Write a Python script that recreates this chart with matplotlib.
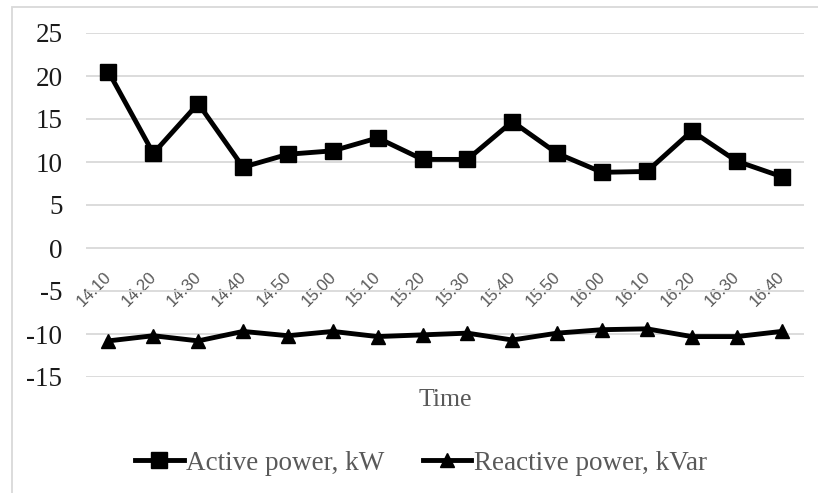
import matplotlib
matplotlib.use("Agg")
import matplotlib.pyplot as plt
from matplotlib.patches import Rectangle
from matplotlib.transforms import ScaledTranslation

# data
times = ["14.10", "14.20", "14.30", "14.40", "14.50", "15.00", "15.10", "15.20",
         "15.30", "15.40", "15.50", "16.00", "16.10", "16.20", "16.30", "16.40"]
active_kw = [20.5, 11.0, 16.8, 9.4, 10.9, 11.3, 12.8, 10.3,
             10.3, 14.7, 11.0, 8.8, 8.9, 13.6, 10.1, 8.3]
reactive_kvar = [-10.8, -10.2, -10.8, -9.7, -10.2, -9.7, -10.3, -10.1,
                 -9.9, -10.7, -9.9, -9.5, -9.4, -10.3, -10.3, -9.7]
yticks = [-15, -10, -5, 0, 5, 10, 15, 20, 25]

SERIF = "Liberation Serif"
GRID = "#d9d9d9"
TXT = "#595959"
plt.rcParams["axes.unicode_minus"] = False

fig = plt.figure(figsize=(8.18, 4.93), dpi=100)
ax = fig.add_axes([86 / 818, 1 - 377 / 493, 718 / 818, 344 / 493])

x = list(range(len(times)))
ax.plot(x, active_kw, color="black", lw=3.5, marker="s", ms=11,
        label="Active power, kW", zorder=3)
ax.plot(x, reactive_kvar, color="black", lw=3.5, marker="^", ms=9.5,
        label="Reactive power, kVar", zorder=3)

ax.set_xlim(-0.5, len(times) - 0.5)
ax.set_ylim(-15, 25)
ax.set_yticks(yticks)
ax.yaxis.grid(True, color=GRID, lw=1.3)
ax.set_axisbelow(True)
for sp in ax.spines.values():
    sp.set_visible(False)

# category axis crosses at y = 0, labels rotated like Excel
ax.spines["bottom"].set_position(("data", 0))
ax.set_xticks(x)
ax.set_xticklabels(times, rotation=45, ha="right", va="top",
                   fontsize=12, color=TXT, family="Liberation Sans")
ax.tick_params(axis="x", length=0, pad=15)
offset = ScaledTranslation(6 / 100, 0, fig.dpi_scale_trans)
for lbl in ax.get_xticklabels():
    lbl.set_transform(lbl.get_transform() + offset)

ax.tick_params(axis="y", length=0, pad=17)
for lbl in ax.get_yticklabels():
    lbl.set_fontfamily(SERIF)
    lbl.set_fontsize(19.5)
    lbl.set_color("#1a1a1a")

ax.set_xlabel("Time", family=SERIF, fontsize=18.5, color=TXT)
ax.xaxis.set_label_coords(0.5, -0.035, transform=ax.transAxes)
ax.xaxis.label.set_va("top")

leg = fig.legend(loc="center", bbox_to_anchor=(421 / 818, 1 - 463 / 493),
                 ncol=2, frameon=False, handlelength=1.8, handletextpad=0.1,
                 columnspacing=1.4, prop={"family": SERIF, "size": 19.5})
for t in leg.get_texts():
    t.set_color(TXT)

# chart-area border (Excel frame)
fig.patches.append(Rectangle((12 / 818, -0.1), 1.0, 1 - 7 / 493 + 0.1,
                             transform=fig.transFigure, fill=False,
                             edgecolor=GRID, lw=1.3))

fig.savefig("out.png", dpi=100)
